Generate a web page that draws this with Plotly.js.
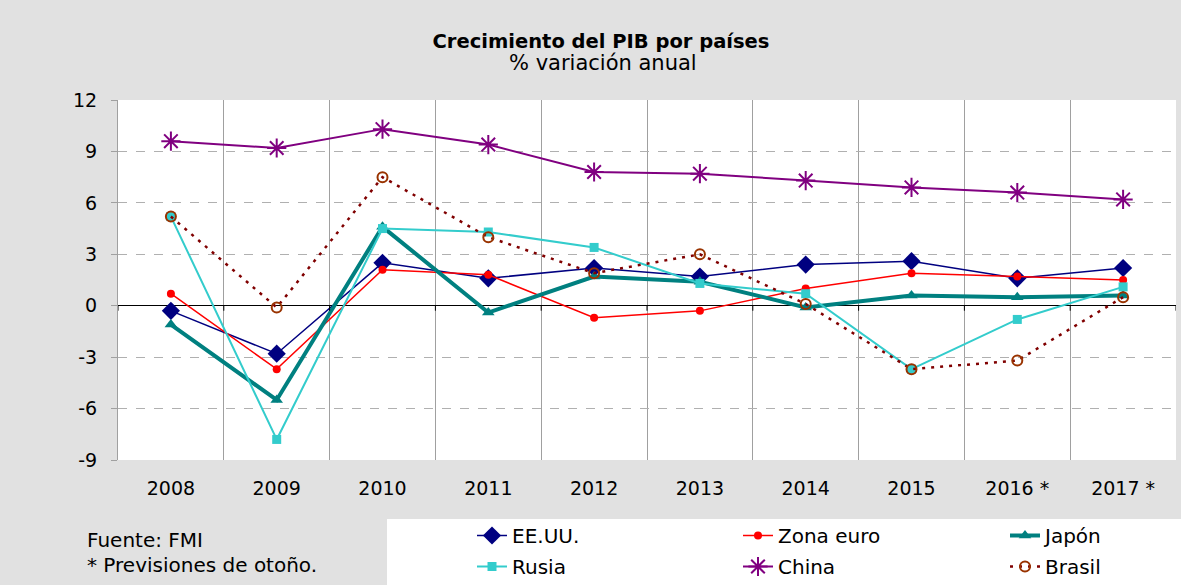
<!DOCTYPE html>
<html><head><meta charset="utf-8">
<script src="https://cdn.plot.ly/plotly-3.0.1.min.js"></script>
<style>html,body{margin:0;padding:0;background:#e1e1e1}</style>
</head><body><div id="chart" style="width:1181px;height:585px"></div>
<script>
const years = ['2008','2009','2010','2011','2012','2013','2014','2015','2016 *','2017 *'];
const eeuu = [-0.3,-2.8,2.5,1.6,2.2,1.7,2.4,2.6,1.6,2.2];
const zonaEuro = [0.7,-3.7,2.1,1.8,-0.7,-0.3,1.0,1.9,1.7,1.5];
const japon = [-1.1,-5.5,4.6,-0.4,1.7,1.4,-0.1,0.6,0.5,0.6];
const rusia = [5.2,-7.8,4.5,4.3,3.4,1.3,0.7,-3.7,-0.8,1.1];
const china = [9.6,9.2,10.3,9.4,7.8,7.7,7.3,6.9,6.6,6.2];
const brasil = [5.2,-0.1,7.5,4.0,1.9,3.0,0.1,-3.7,-3.2,0.5];
const yTicks = [-9,-6,-3,0,3,6,9,12];
const yTickText = ['-9','-6','-3','0','3','6','9','12'];

const FONT = 'DejaVu Sans, Liberation Sans, Arial, sans-serif';

function tr(name, y, legend, line, marker){
  return {x: years, y: y, name: name, type: 'scatter', mode: 'lines+markers',
    legend: legend, legendgroup: name, line: line, marker: marker, cliponaxis: false};
}
const traces = [
  tr('EE.UU.', eeuu, 'legend', {color:'#000080', width:1.5}, {symbol:'diamond', size:14, color:'#000080'}),
  tr('Zona euro', zonaEuro, 'legend2', {color:'#ff0000', width:1.5}, {symbol:'circle', size:8, color:'#ff0000'}),
  tr('Japón', japon, 'legend3', {color:'#008080', width:4}, {symbol:'triangle-up', size:11, color:'#008080'}),
  tr('Rusia', rusia, 'legend', {color:'#33cccc', width:2}, {symbol:'square', size:9, color:'#33cccc'}),
  tr('China', china, 'legend2', {color:'#800080', width:2}, {symbol:'asterisk-open', size:16, color:'#800080', line:{color:'#800080', width:2}}),
  tr('Brasil', brasil, 'legend3', {color:'#800000', width:2.5, dash:'3px,6px'}, {symbol:'circle-open', size:10, color:'#993300', line:{color:'#993300', width:2}})
];

const W = 1181, H = 585, L = 118, R = 5, T = 100, B = 125;
const pw = W - L - R, ph = H - T - B;
const px = v => (v - L) / pw;          // page x -> paper x
const py = v => (H - B - v) / ph;      // page y -> paper y

const shapes = [
  {type:'rect', xref:'paper', yref:'paper', x0:px(387), x1:px(1185), y0:py(590), y1:py(519),
   fillcolor:'#ffffff', line:{width:0}, layer:'below'}
];
for (let i = 0; i <= years.length; i++) {
  shapes.push({type:'line', xref:'x', yref:'y', x0:i-0.5, x1:i-0.5, ysizemode:'pixel', yanchor:0, y0:0, y1:-5,
    line:{color:'#000000', width:1}});
}

const legendBase = {orientation:'v', xref:'paper', yref:'container', xanchor:'left', yanchor:'top', y:1-516/H,
  bgcolor:'rgba(0,0,0,0)', font:{family:FONT, size:20, color:'#000'}, tracegroupgap:2,
  itemclick:false, itemdoubleclick:false};

const layout = {
  width: W, height: H,
  paper_bgcolor:'#e1e1e1', plot_bgcolor:'#ffffff',
  margin:{l:L, r:R, t:T, b:B, pad:0},
  font:{family:FONT, size:19, color:'#000'},
  title:{text:'<b>Crecimiento del PIB por países</b>', xref:'container', x:601/W, xanchor:'center',
    yref:'container', y:1-41/H, yanchor:'middle', font:{family:FONT, size:19.5, color:'#000'}},
  xaxis:{type:'category', categoryorder:'array', categoryarray:years, range:[-0.5, years.length-0.5],
    tickson:'boundaries', showgrid:true, gridcolor:'#a0a0a0', gridwidth:1, ticks:'', showline:false,
    zeroline:false, tickfont:{size:19}, ticklabelstandoff:15, automargin:false, fixedrange:true},
  yaxis:{range:[-9,12], tickvals:yTicks, ticktext:yTickText, showgrid:true, gridcolor:'#b0b0b0', griddash:'dash', gridwidth:1,
    zeroline:true, zerolinecolor:'#000000', zerolinewidth:1, showline:true, linecolor:'#a0a0a0', linewidth:1,
    ticks:'outside', ticklen:6, tickcolor:'#a0a0a0', tickfont:{size:19}, ticklabelstandoff:10,
    automargin:false, fixedrange:true},
  legend: Object.assign({}, legendBase, {x:px(472)}),
  legend2: Object.assign({}, legendBase, {x:px(738)}),
  legend3: Object.assign({}, legendBase, {x:px(1005)}),
  shapes: shapes,
  annotations:[
    {text:'% variación anual', xref:'paper', yref:'paper', x:px(603), y:py(63), xanchor:'center', yanchor:'middle',
      showarrow:false, font:{family:FONT, size:21, color:'#000'}},
    {text:'Fuente: FMI', xref:'paper', yref:'paper', x:px(85), y:py(540), xanchor:'left', yanchor:'middle',
      showarrow:false, font:{family:FONT, size:20, color:'#000'}},
    {text:'* Previsiones de otoño.', xref:'paper', yref:'paper', x:px(85), y:py(565), xanchor:'left', yanchor:'middle',
      showarrow:false, font:{family:FONT, size:20, color:'#000'}}
  ],
  showlegend:true
};

Plotly.newPlot('chart', traces, layout, {displayModeBar:false, staticPlot:true});
</script></body></html>
